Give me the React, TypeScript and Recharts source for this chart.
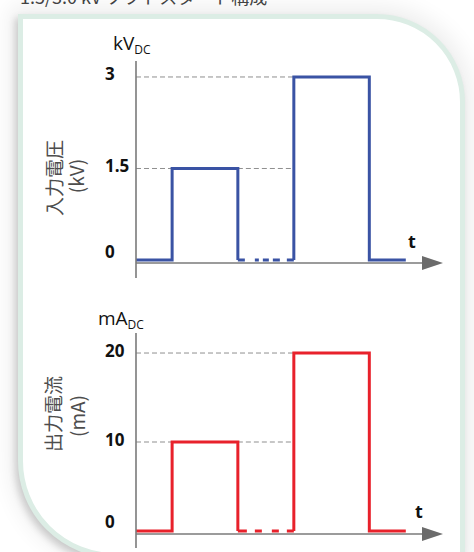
import React from "react";
import { LineChart, Line, XAxis, YAxis, ReferenceLine } from "recharts";

// ---- data (time in arbitrary units, values in kV / mA) ----
const pulse1Time = [0, 1.0, 1.0, 2.82, 2.82];
const gapTime = [2.82, 4.37];
const pulse2Time = [4.37, 4.37, 6.46, 6.46, 7.47];
const timeEnd = 8.5;

const kvPulse1 = [0, 0, 1.5, 1.5, 0];
const kvGap = [0, 0];
const kvPulse2 = [0, 3, 3, 0, 0];
const kvTicks = [0, 1.5, 3];

const maPulse1 = [0, 0, 10, 10, 0];
const maGap = [0, 0];
const maPulse2 = [0, 20, 20, 0, 0];
const maTicks = [0, 10, 20];

const zip = (ts: number[], vs: number[]) => ts.map((t, i) => ({ t, v: vs[i] }));

const LATIN = "'Open Sans', 'Noto Sans', sans-serif";
const CJK = "'Noto Sans CJK JP', 'Noto Sans', sans-serif";
const GRID = "#8f8f8f";
const AXIS = "#7a7a7a";

const makeTick = (lift0: number) => (props: any) => {
  const { y, payload } = props;
  const lift = payload.value === 0 ? lift0 : 3;
  return (
    <text
      x={105}
      y={y - lift}
      dominantBaseline="central"
      fontFamily={LATIN}
      fontWeight={700}
      fontSize={17}
      fill="#111"
    >
      {String(payload.value)}
    </text>
  );
};

const ArrowAxis = (props: any) => {
  const { x1, y1, x2 } = props;
  const y = y1 + 3;
  return (
    <g>
      <line x1={x1} y1={y} x2={x2 - 19} y2={y} stroke={AXIS} strokeWidth={1.6} />
      <polygon points={`${x2 - 21},${y - 7} ${x2},${y} ${x2 - 21},${y + 7}`} fill="#6b6b6b" />
    </g>
  );
};

type PanelProps = {
  top: number;
  height: number;
  marginTop: number;
  marginBottom: number;
  domain: [number, number];
  ticks: number[];
  p1: number[];
  gap: number[];
  p2: number[];
  color: string;
  gapDash: string;
  lift0: number;
};

function Panel(p: PanelProps) {
  const lo = p.ticks[1];
  const hi = p.ticks[2];
  return (
    <div style={{ position: "absolute", left: 0, top: p.top }}>
      <LineChart
        width={474}
        height={p.height}
        margin={{ top: p.marginTop, right: 31, bottom: p.marginBottom, left: 96 }}
      >
        <XAxis dataKey="t" type="number" domain={[0, timeEnd]} hide allowDataOverflow />
        <YAxis
          type="number"
          width={40}
          domain={p.domain}
          ticks={p.ticks}
          allowDataOverflow
          tickLine={false}
          axisLine={{ stroke: AXIS, strokeWidth: 1.6 }}
          tick={makeTick(p.lift0)}
          interval={0}
        />
        <ReferenceLine
          segment={[{ x: 0, y: lo }, { x: pulse1Time[1], y: lo }]}
          stroke={GRID}
          strokeDasharray="5 3"
        />
        <ReferenceLine
          segment={[{ x: pulse1Time[3], y: lo }, { x: pulse2Time[0], y: lo }]}
          stroke={GRID}
          strokeDasharray="5 3"
        />
        <ReferenceLine
          segment={[{ x: 0, y: hi }, { x: pulse2Time[0], y: hi }]}
          stroke={GRID}
          strokeDasharray="5 3"
        />
        <ReferenceLine
          segment={[{ x: 0, y: 0 }, { x: timeEnd, y: 0 }]}
          shape={ArrowAxis}
        />
        <Line
          data={zip(pulse1Time, p.p1)}
          dataKey="v"
          type="linear"
          stroke={p.color}
          strokeWidth={3}
          dot={false}
          isAnimationActive={false}
        />
        <Line
          data={zip(gapTime, p.gap)}
          dataKey="v"
          type="linear"
          stroke={p.color}
          strokeWidth={3}
          strokeDasharray={p.gapDash}
          dot={false}
          isAnimationActive={false}
        />
        <Line
          data={zip(pulse2Time, p.p2)}
          dataKey="v"
          type="linear"
          stroke={p.color}
          strokeWidth={3}
          dot={false}
          isAnimationActive={false}
        />
      </LineChart>
    </div>
  );
}

export default function App() {
  return (
    <div
      style={{
        position: "absolute",
        left: 0,
        top: 0,
        width: 474,
        height: 552,
        overflow: "hidden",
        background: "#ffffff",
      }}
    >
      <div
        style={{
          position: "absolute",
          left: 20,
          top: -17,
          fontFamily: CJK,
          fontSize: 18,
          color: "#444",
          whiteSpace: "nowrap",
        }}
      >
        1.5/3.0 kV ソフトスタート構成
      </div>
      <div
        style={{
          position: "absolute",
          left: 18,
          top: 14,
          width: 447,
          height: 544,
          boxSizing: "border-box",
          border: "5px solid #dcede5",
          background: "#ffffff",
          borderRadius: "0 88px 0 97px",
          boxShadow: "0 0 22px 8px rgba(0,0,0,0.07), -3px 4px 7px rgba(0,0,0,0.16)",
        }}
      />
      <Panel
        top={0}
        height={290}
        marginTop={61}
        marginBottom={12}
        domain={[-0.295, 3.262]}
        ticks={kvTicks}
        p1={kvPulse1}
        gap={kvGap}
        p2={kvPulse2}
        color="#3a53a4"
        gapDash="7 10 4 4 6 4 7 7 8"
        lift0={9}
      />
      <Panel
        top={290}
        height={262}
        marginTop={43}
        marginBottom={4}
        domain={[-1.91, 22.25]}
        ticks={maTicks}
        p1={maPulse1}
        gap={maGap}
        p2={maPulse2}
        color="#e8212b"
        gapDash="9 8 7 10 7 8 8"
        lift0={10}
      />
      <svg
        width={474}
        height={552}
        style={{ position: "absolute", left: 0, top: 0, pointerEvents: "none" }}
      >
        <text x={113} y={50} fontFamily={LATIN} fontSize={19} fill="#111">
          kV
          <tspan fontSize={12} dy={4}>DC</tspan>
        </text>
        <text x={98} y={325} fontFamily={LATIN} fontSize={19} fill="#111">
          mA
          <tspan fontSize={12} dy={4}>DC</tspan>
        </text>
        <g fontFamily={CJK} fontSize={19} fill="#4d4d4d" textAnchor="middle" dominantBaseline="central">
          <text x={53} y={178} transform="rotate(-90 53 178)">入力電圧</text>
          <text x={75} y={176} transform="rotate(-90 75 176)">(kV)</text>
          <text x={52} y={414} transform="rotate(-90 52 414)">出力電流</text>
          <text x={76} y={416} transform="rotate(-90 76 416)">(mA)</text>
        </g>
        <text x={408} y={248} fontFamily={LATIN} fontWeight={700} fontSize={18} fill="#111">t</text>
        <text x={415} y={518} fontFamily={LATIN} fontWeight={700} fontSize={18} fill="#111">t</text>
      </svg>
    </div>
  );
}
